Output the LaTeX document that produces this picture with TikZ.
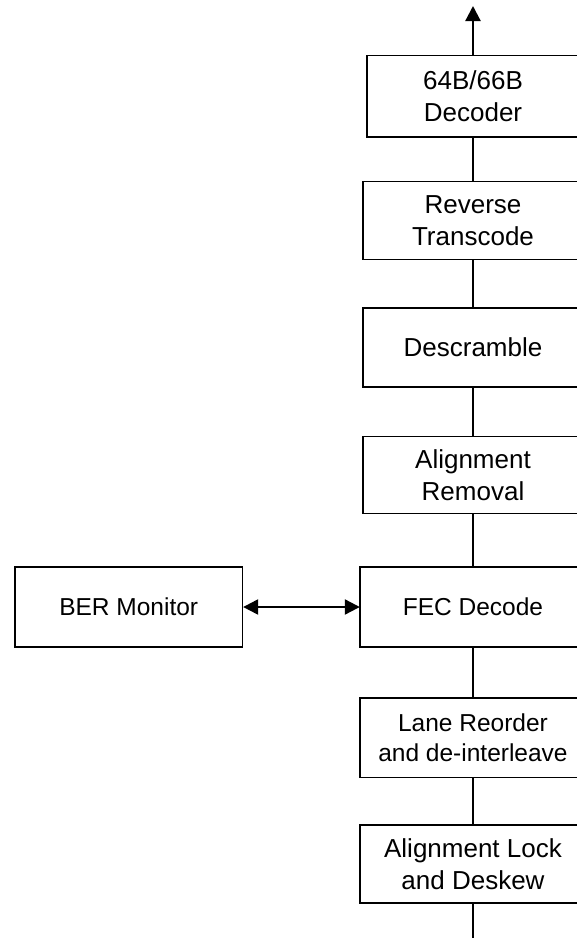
\documentclass[tikz,border=0pt]{standalone}
\usepackage{fontspec}
\setmainfont{Liberation Sans}
\usetikzlibrary{arrows.meta}
\tikzset{
  blk/.style={inner sep=0pt, align=center, font=\fontsize{26}{32.5}\selectfont},
  blksm/.style={blk, font=\fontsize{24.5}{29.5}\selectfont},
  boxline/.style={line width=1.6pt},
  conn/.style={line width=2.2pt},
  tip/.style={-{Triangle[length=15pt,width=15pt]}},
  tips/.style={{Triangle[length=15pt,width=15pt]}-{Triangle[length=15pt,width=15pt]}}
}
\begin{document}
\begin{tikzpicture}[x=1pt,y=-1pt]
\useasboundingbox (0,0) rectangle (577,938);
\clip (0,0) rectangle (577,938);
\node[blk, minimum width=212pt, minimum height=81pt] (b1) at (473,96.2) {64B/66B\\Decoder};
\node[blk, minimum width=219.4pt, minimum height=77.6pt] (b2) at (473,220.5) {Reverse\\Transcode};
\node[blk, minimum width=219.4pt, minimum height=78.7pt] (b3) at (473,347.3) {Descramble};
\node[blk, minimum width=219.4pt, minimum height=76.6pt] (b4) at (473,475) {Alignment\\Removal};
\node[blksm, minimum width=226pt, minimum height=80pt] (fec) at (473,607) {FEC Decode};
\node[blksm, minimum width=226pt, minimum height=79pt] (lane) at (473,737.8) {Lane Reorder\\and de-interleave};
\node[blk, minimum width=226pt, minimum height=78pt] (lock) at (473,864) {Alignment Lock\\and Deskew};
\node[blksm, draw, line width=1.6pt, minimum width=227.3pt, minimum height=80pt] (ber) at (128.7,607) {BER Monitor};
\foreach \n in {b1,b2,b3,b4,fec,lane,lock}
  \draw[boxline] (\n.south west) rectangle ([xshift=30pt]\n.north east);
\coordinate (top) at (473,6);
\coordinate (bot) at (473,940);
\draw[conn, tip] (b1.north) -- (top);
\draw[conn] (b2.north) -- (b1.south);
\draw[conn] (b3.north) -- (b2.south);
\draw[conn] (b4.north) -- (b3.south);
\draw[conn] (fec.north) -- (b4.south);
\draw[conn] (lane.north) -- (fec.south);
\draw[conn] (lock.north) -- (lane.south);
\draw[conn] (bot) -- (lock.south);
\draw[conn, tips] (ber.east) -- (fec.west);
\end{tikzpicture}
\end{document}
